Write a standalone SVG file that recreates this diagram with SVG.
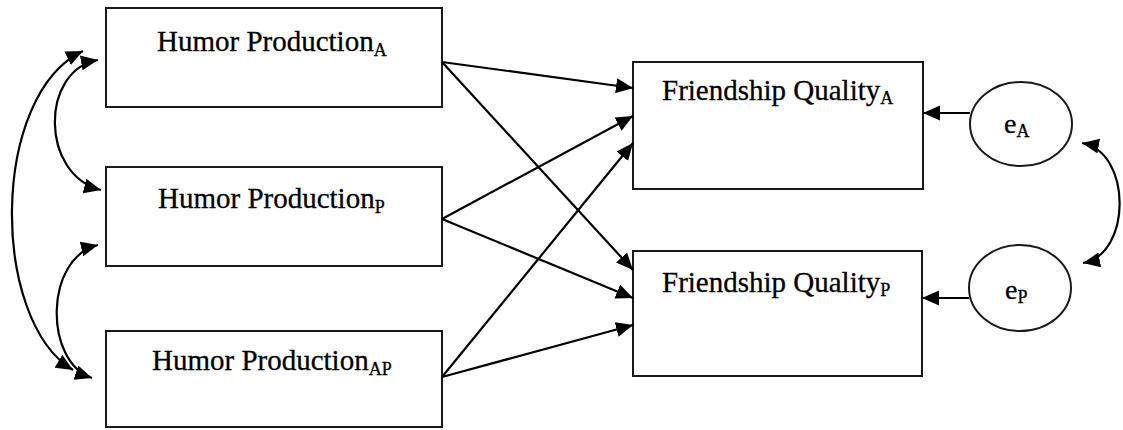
<svg xmlns="http://www.w3.org/2000/svg" width="1123" height="430" viewBox="0 0 1123 430">
<style>
.box{fill:#fff;stroke:#1a1a1a;stroke-width:2}
.ell{fill:#fff;stroke:#1a1a1a;stroke-width:2}
.lbl{font-family:"Liberation Serif","Times New Roman",serif;font-size:29px;fill:#000;stroke:#000;stroke-width:0.3}
.sub{font-size:18px}
.elbl{font-family:"Liberation Serif","Times New Roman",serif;font-size:28px;fill:#000;stroke:#000;stroke-width:0.3}
.con{fill:none;stroke:#000;stroke-width:2.2}
</style>
<defs>
<marker id="ah" markerUnits="userSpaceOnUse" markerWidth="18" markerHeight="16" refX="17" refY="7.5" orient="auto-start-reverse">
<path d="M0,0 L17,7.5 L0,15 z" fill="#000"/>
</marker>
</defs>
<rect width="1123" height="430" fill="#fff"/>
<g id="hpA">
<rect class="box" x="106" y="8" width="336" height="99"/>
<text class="lbl" x="157" y="51">Humor Production<tspan class="sub" dy="5">A</tspan></text>
</g>
<g id="hpP">
<rect class="box" x="106" y="167" width="336" height="99"/>
<text class="lbl" x="158" y="208">Humor Production<tspan class="sub" dy="5">P</tspan></text>
</g>
<g id="hpAP">
<rect class="box" x="106" y="331" width="336" height="96"/>
<text class="lbl" x="152" y="370">Humor Production<tspan class="sub" dy="5">AP</tspan></text>
</g>
<g id="fqA">
<rect class="box" x="633" y="62" width="290" height="127"/>
<text class="lbl" x="662" y="100">Friendship Quality<tspan class="sub" dy="4">A</tspan></text>
</g>
<g id="fqP">
<rect class="box" x="633" y="251" width="289" height="125"/>
<text class="lbl" x="662" y="292">Friendship Quality<tspan class="sub" dy="4">P</tspan></text>
</g>
<g id="eA">
<ellipse class="ell" cx="1021" cy="124" rx="51" ry="42"/>
<text class="elbl" x="1004" y="133">e<tspan class="sub" dy="4">A</tspan></text>
</g>
<g id="eP">
<ellipse class="ell" cx="1020" cy="288" rx="51" ry="43"/>
<text class="elbl" x="1005" y="299">e<tspan class="sub" dy="4">P</tspan></text>
</g>
<g id="connectors">
<line class="con" x1="442" y1="62" x2="633" y2="88" marker-end="url(#ah)"/>
<line class="con" x1="442" y1="62" x2="633" y2="270" marker-end="url(#ah)"/>
<line class="con" x1="442" y1="219" x2="633" y2="116" marker-end="url(#ah)"/>
<line class="con" x1="442" y1="219" x2="633" y2="298" marker-end="url(#ah)"/>
<line class="con" x1="442" y1="377" x2="633" y2="143" marker-end="url(#ah)"/>
<line class="con" x1="442" y1="377" x2="633" y2="325" marker-end="url(#ah)"/>
<line class="con" x1="970" y1="113" x2="923" y2="113" marker-end="url(#ah)"/>
<line class="con" x1="969" y1="298" x2="922" y2="298" marker-end="url(#ah)"/>
<path class="con" d="M83,51 C-10,95 -10,320 73,370" marker-start="url(#ah)" marker-end="url(#ah)"/>
<path class="con" d="M98,60 C40,70 40,175 101,190" marker-start="url(#ah)" marker-end="url(#ah)"/>
<path class="con" d="M98,245 C44,258 44,362 92,378" marker-start="url(#ah)" marker-end="url(#ah)"/>
<path class="con" d="M1082,143 C1132,152 1132,254 1083,263" marker-start="url(#ah)" marker-end="url(#ah)"/>
</g>
</svg>
